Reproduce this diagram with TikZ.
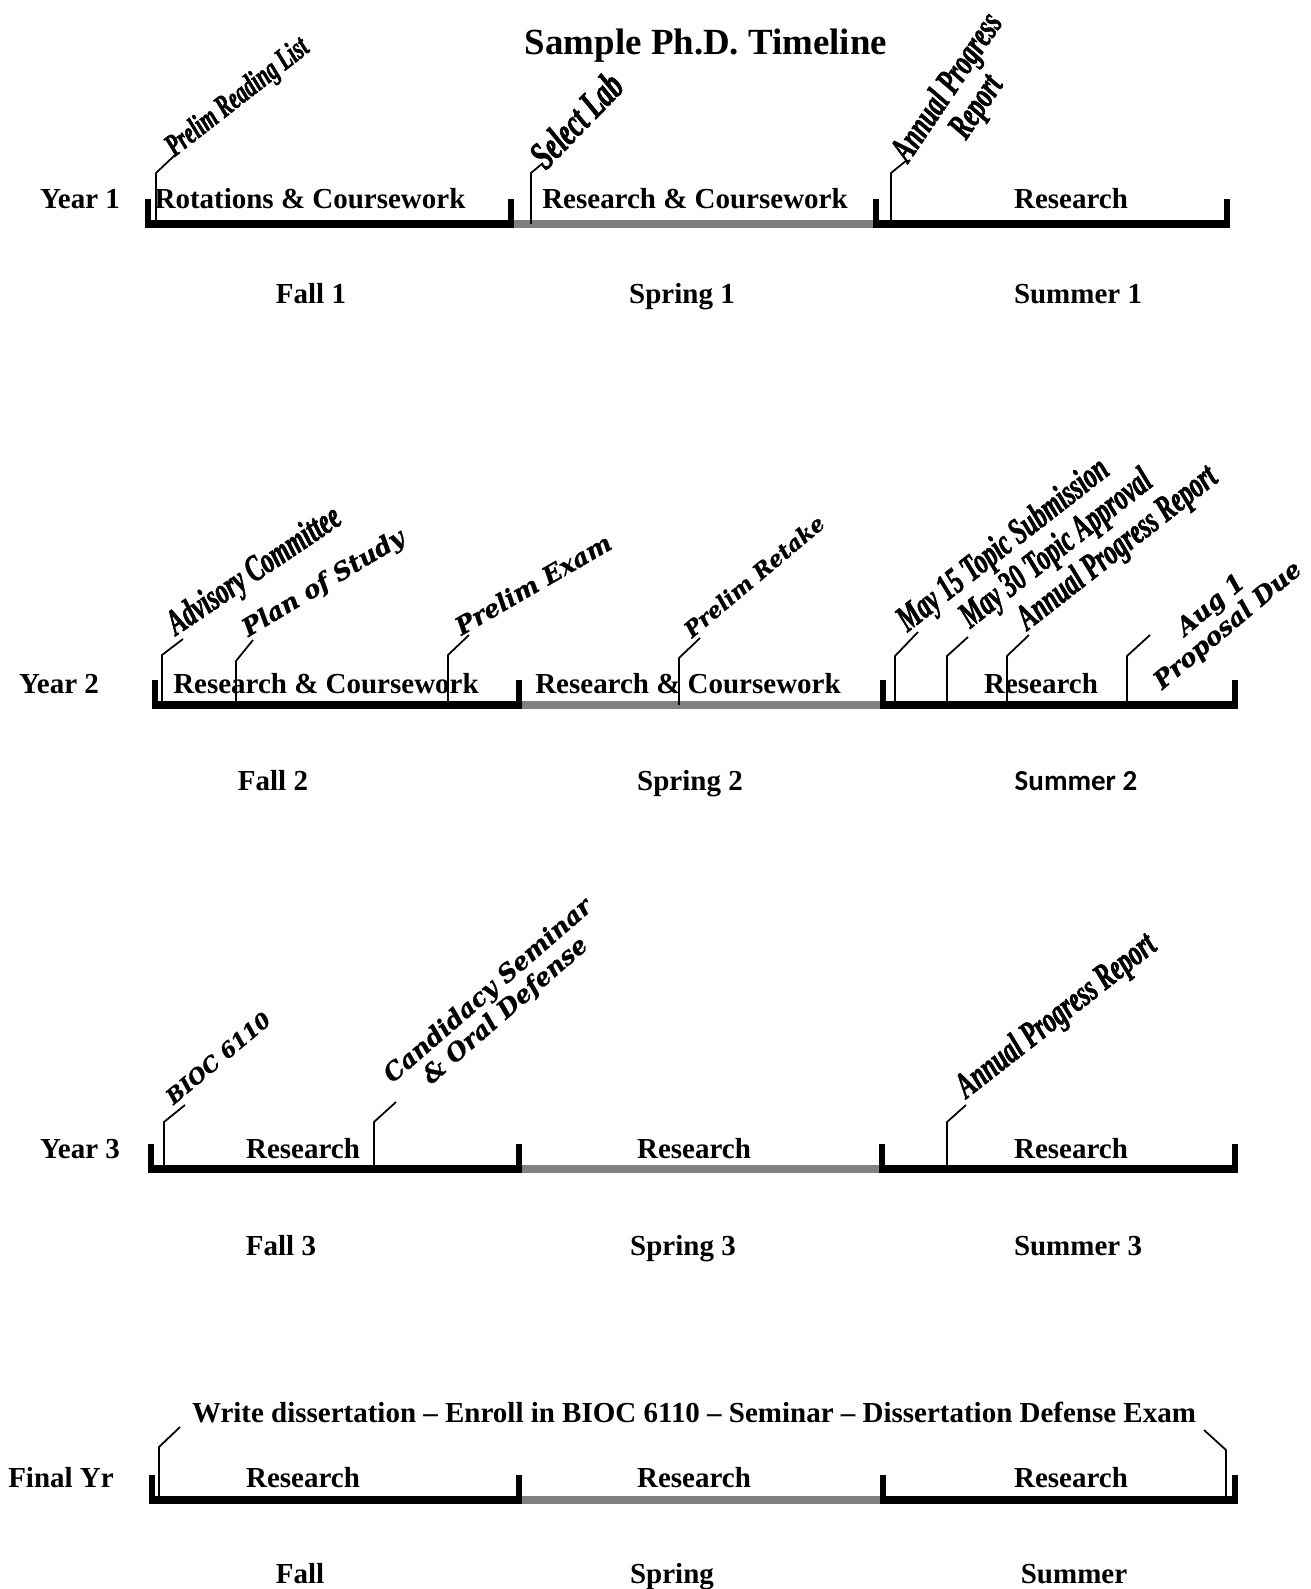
\documentclass[tikz,border=0pt]{standalone}
\usepackage{fontspec}
\setmainfont{Liberation Serif}
\newfontfamily\narrowfont{Liberation Serif Bold Italic}[FakeStretch=0.66,FakeBold=1.5]
\newfontfamily\widefont{DejaVu Serif}[FakeBold=0.8]
\newfontfamily\calfont{Carlito}

\begin{document}
\begin{tikzpicture}[x=0.02cm,y=-0.02cm,
  bar/.style={line width=4.5pt},
  tick/.style={line width=3.4pt},
  lead/.style={line width=1pt},
  term/.style={anchor=base,inner sep=0pt,font=\fontsize{16.5}{19}\selectfont\bfseries},
  slim/.style={inner sep=0pt,align=center,font=\narrowfont\fontsize{21}{20}\selectfont},
  broad/.style={inner sep=0pt,align=center,font=\widefont\fontsize{14}{15}\selectfont\bfseries\itshape}]
  \useasboundingbox (0,0) rectangle (1311,1589);

  \node[term,font=\fontsize{21}{24}\selectfont\bfseries] (title) at (706,54) {Sample Ph.D. Timeline};

  \foreach \y/\xa/\xb/\xc/\xd in {224/145/514/873/1230,705/152/522/880/1238,1169/148/522/879/1238,1500/149/522/880/1238} {
    \draw[bar] (\xa,\y) -- (\xb,\y);
    \draw[bar,gray] (\xb,\y) -- (\xc,\y);
    \draw[bar] (\xc,\y) -- (\xd,\y);
    \foreach \t in {\xa+3,\xb-3,\xc+3,\xd-3} {\draw[tick] (\t,\y+4) -- (\t,\y-25);}
  }

  \foreach \n/\x/\b/\k/\ex/\ey in {prl/156/224/173/175/155, sl/531/224/173/543/163, apa/891/224/173/907/160,
      ac/162/705/655/183/639, pos/236/705/661/253/640, pe/448/705/655/469/635, pr/679/705/658/700/638,
      mfa/895/705/656/918/632, mta/947/705/656/968/637, apb/1007/705/656/1029/635, aug/1127/705/656/1150/635,
      bioc/164/1169/1122/185/1105, cand/374/1169/1122/396/1102, apc/947/1169/1122/966/1105,
      wl/159/1500/1447/180/1427, wr/1226/1500/1450/1204/1430} {
    \coordinate (\n-foot) at (\x,\b);
    \coordinate (\n-end) at (\ex,\ey);
    \draw[lead] (\n-foot) -- (\x,\k) -- (\n-end);
  }

  \node[term] (yr1) at (80,208) {Year 1};
  \node[term] (fa1) at (310,208) {Rotations \& Coursework};
  \node[term] (sp1) at (695,208) {Research \& Coursework};
  \node[term] (su1) at (1071,208) {Research};
  \node[term] (fall1) at (311,303) {Fall 1};
  \node[term] (spring1) at (682,303) {Spring 1};
  \node[term] (summer1) at (1078,303) {Summer 1};
  \node[slim,rotate=38,font=\narrowfont\fontsize{18}{19}\selectfont] (prl) at (238,98) {Prelim Reading List};
  \node[slim,rotate=46,font=\narrowfont\fontsize{23}{24}\selectfont] (sl) at (576,120) {Select Lab};
  \node[slim,rotate=56] (apa) at (963,98) {Annual Progress\\Report};

  \node[term] (yr2) at (59,693) {Year 2};
  \node[term] (fa2) at (326,693) {Research \& Coursework};
  \node[term] (sp2) at (688,693) {Research \& Coursework};
  \node[term] (su2) at (1041,693) {Research};
  \node[term] (fall2) at (273,790) {Fall 2};
  \node[term] (spring2) at (690,790) {Spring 2};
  \node[term,font=\calfont\fontsize{16.5}{19}\selectfont\bfseries] (summer2) at (1076,790) {Summer 2};
  \node[slim,rotate=34] (ac) at (255,572) {Advisory Committee};
  \node[broad,rotate=31] (pos) at (324,584) {Plan of Study};
  \node[broad,rotate=30] (pe) at (533,584) {Prelim Exam};
  \node[broad,rotate=40,font=\widefont\fontsize{12.5}{14}\selectfont\bfseries\itshape] (pr) at (754,576) {Prelim Retake};
  \node[slim,rotate=38] (mfa) at (1004,546) {May 15 Topic Submission};
  \node[slim,rotate=38] (mta) at (1057,550) {May 30 Topic Approval};
  \node[slim,rotate=38] (apb) at (1118,549) {Annual Progress Report};
  \node[broad,rotate=40] (aug) at (1220,616) {Aug 1\\Proposal Due};

  \node[term] (yr3) at (80,1158) {Year 3};
  \node[term] (fa3) at (303,1158) {Research};
  \node[term] (sp3) at (694,1158) {Research};
  \node[term] (su3) at (1071,1158) {Research};
  \node[term] (fall3) at (281,1255) {Fall 3};
  \node[term] (spring3) at (683,1255) {Spring 3};
  \node[term] (summer3) at (1078,1255) {Summer 3};
  \node[broad,rotate=40,font=\widefont\fontsize{12}{14}\selectfont\bfseries\itshape] (bioc) at (218,1058) {BIOC 6110};
  \node[broad,rotate=41] (cand) at (497,1001) {Candidacy Seminar\\\& Oral Defense};
  \node[slim,rotate=38] (apc) at (1057,1017) {Annual Progress Report};

  \node[term] (write) at (694,1422) {Write dissertation -- Enroll in BIOC 6110 -- Seminar -- Dissertation Defense Exam};
  \node[term] (yr4) at (61,1487) {Final Yr};
  \node[term] (fa4) at (303,1487) {Research};
  \node[term] (sp4) at (694,1487) {Research};
  \node[term] (su4) at (1071,1487) {Research};
  \node[term] (fall4) at (300,1583) {Fall};
  \node[term] (spring4) at (672,1583) {Spring};
  \node[term] (summer4) at (1074,1583) {Summer};
\end{tikzpicture}
\end{document}
